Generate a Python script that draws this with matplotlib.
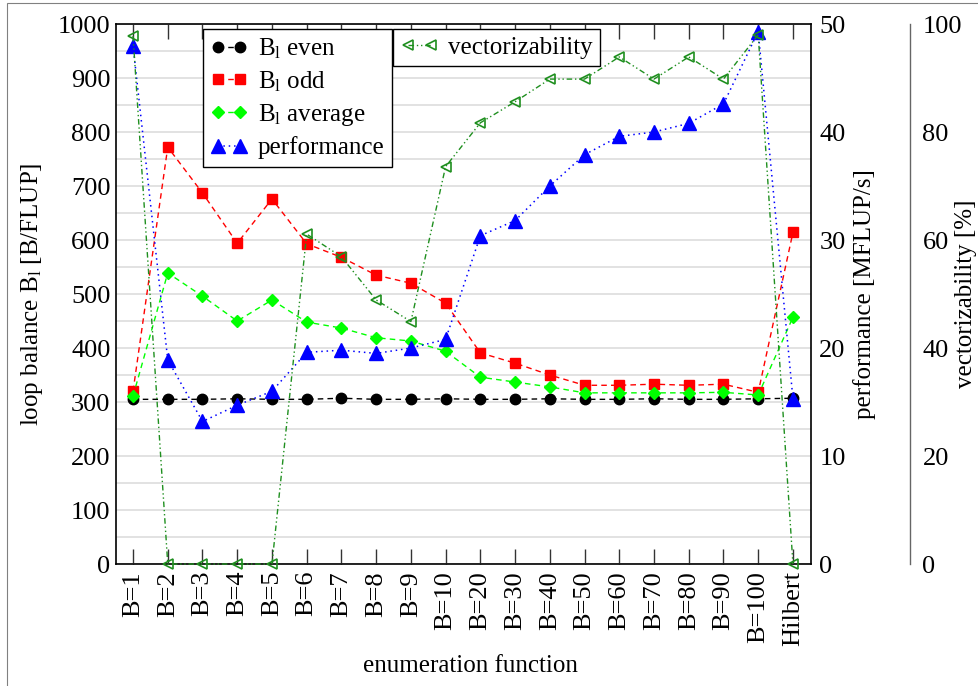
#! /usr/bin/env python3

# Loop balance, performance and vectorizability per enumeration function.

import matplotlib
matplotlib.use('Agg')
import matplotlib.pyplot as plt
from matplotlib.patches import Rectangle
import numpy as np

categories = ['B=1', 'B=2', 'B=3', 'B=4', 'B=5', 'B=6', 'B=7', 'B=8', 'B=9',
              'B=10', 'B=20', 'B=30', 'B=40', 'B=50', 'B=60', 'B=70', 'B=80',
              'B=90', 'B=100', 'Hilbert']

bl_even = [305, 305, 305, 306, 305, 305, 307, 305, 305, 306,
           305, 305, 306, 305, 305, 306, 305, 305, 306, 307]
bl_odd = [320, 772, 687, 594, 676, 593, 568, 535, 520, 483,
          391, 372, 350, 331, 331, 333, 331, 333, 318, 614]
bl_avg = [311, 539, 496, 450, 489, 448, 437, 419, 413, 394,
          346, 337, 328, 317, 317, 317, 317, 318, 313, 457]
performance = [48.0, 18.9, 13.2, 14.7, 16.0, 19.6, 19.8, 19.5, 20.0, 20.8,
               30.4, 31.8, 35.0, 37.9, 39.6, 40.0, 40.8, 42.6, 49.3, 15.3]
vectorizability = [97.8, 0, 0, 0, 0, 61.1, 56.9, 48.9, 44.9, 73.6,
                   81.7, 85.6, 89.8, 89.8, 93.9, 89.8, 93.9, 89.8, 98.0, 0]

plt.rcParams['font.family'] = 'serif'
plt.rcParams['font.serif'] = ['Liberation Serif', 'DejaVu Serif']
plt.rcParams['mathtext.fontset'] = 'custom'
plt.rcParams['mathtext.rm'] = 'Liberation Serif'
plt.rcParams['mathtext.it'] = 'Liberation Serif:italic'

TICKSIZE = 19
LABELSIZE = 18

vgreen = '#1f8f1f'


def make_plot():
    fig = plt.figure(figsize=(9.79, 6.86), dpi=100)
    # thin frame around the whole picture
    fig.patches.append(Rectangle((7 / 979, -0.1), 1.2, 1.1 - 3 / 686,
                                 transform=fig.transFigure, fill=False,
                                 edgecolor='#808080', linewidth=0.8))

    ax1 = fig.add_axes([0.1185, 0.1778, 0.7099, 0.7872])
    ax2 = ax1.twinx()
    ax3 = ax1.twinx()

    x = np.arange(len(categories))

    # loop balance on the left axis
    ax1.set_ylim(0, 1000)
    ax1.set_xlim(-0.49, len(categories) - 0.48)
    ax1.set_yticks(np.arange(0, 1001, 100))
    ax1.set_yticks(np.arange(50, 1000, 100), minor=True)
    ax1.grid(True, axis='y', which='both', color='#dadada', linewidth=1.1)
    ax1.set_axisbelow(True)
    ax1.set_xticks(x)
    ax1.set_xticklabels(categories, rotation=90)
    ax1.tick_params(axis='x', direction='in', length=11, width=1,
                    top=True, labelsize=TICKSIZE, pad=5, color='#333333')
    ax1.tick_params(axis='y', which='both', direction='in', length=0,
                    labelsize=TICKSIZE, pad=4)
    for s in ax1.spines.values():
        s.set_linewidth(1.2)

    l_even, = ax1.plot(x, bl_even, color='black', linestyle=(0, (4, 3)),
                       linewidth=1.0, marker='o', markersize=7.5,
                       label=r'B$_\mathrm{l}$ even', clip_on=False)
    l_odd, = ax1.plot(x, bl_odd, color='red', linestyle=(0, (4, 3)),
                      linewidth=1.0, marker='s', markersize=6.5,
                      label=r'B$_\mathrm{l}$ odd', clip_on=False)
    l_avg, = ax1.plot(x, bl_avg, color='#00ff00', linestyle=(0, (4, 3)),
                      linewidth=1.0, marker='D', markersize=6,
                      label=r'B$_\mathrm{l}$ average', clip_on=False)

    ax1.set_ylabel(r'loop balance B$_\mathrm{l}$ [B/FLUP]', fontsize=LABELSIZE)
    ax1.yaxis.set_label_coords(-0.102, 0.5)
    ax1.set_xlabel('enumeration function', fontsize=LABELSIZE)
    ax1.xaxis.set_label_coords(0.51, -0.1685)

    # performance on the first right axis
    ax2.set_ylim(0, 50)
    ax2.set_yticks(np.arange(0, 51, 10))
    ax2.tick_params(axis='y', direction='in', length=0, labelsize=TICKSIZE,
                    pad=6)
    l_perf, = ax2.plot(x, performance, color='blue', linestyle=(0, (1, 2.5)),
                       linewidth=1.1, marker='^', markersize=10,
                       label='performance', clip_on=False)
    ax2.set_ylabel('performance [MFLUP/s]', fontsize=LABELSIZE)
    ax2.yaxis.set_label_coords(1.0604, 0.5)
    for s in ax2.spines.values():
        s.set_visible(False)

    # vectorizability on a detached axis further right
    ax3.set_ylim(0, 100)
    ax3.set_yticks(np.arange(0, 101, 20))
    ax3.spines['right'].set_position(('axes', 1.1424))
    ax3.spines['right'].set_color('#666666')
    ax3.spines['right'].set_linewidth(1.0)
    for k in ('left', 'top', 'bottom'):
        ax3.spines[k].set_visible(False)
    ax3.tick_params(axis='y', length=0, labelsize=TICKSIZE, pad=9)
    l_vec, = ax3.plot(x, vectorizability, color=vgreen,
                      linestyle=(0, (4, 2, 1, 2, 1, 2)), linewidth=1.0,
                      marker='<', markersize=7.5, markerfacecolor='none',
                      markeredgewidth=1.2, label='vectorizability',
                      clip_on=False)
    ax3.set_ylabel('vectorizability [%]', fontsize=LABELSIZE)
    ax3.yaxis.set_label_coords(1.207, 0.5)

    leg1 = ax3.legend(handles=[l_even, l_odd, l_avg, l_perf],
                      loc='upper left', bbox_to_anchor=(0.125, 0.991),
                      borderaxespad=0, numpoints=2, handlelength=1.5,
                      handletextpad=0.4, fontsize=LABELSIZE, fancybox=False,
                      framealpha=1, edgecolor='black', labelspacing=0.33,
                      borderpad=0.3)
    leg1.get_frame().set_linewidth(1.0)
    ax3.add_artist(leg1)
    leg2 = ax3.legend(handles=[l_vec], loc='upper left',
                      bbox_to_anchor=(0.3986, 0.991), borderaxespad=0,
                      numpoints=2, handlelength=1.5, handletextpad=0.4,
                      fontsize=LABELSIZE, fancybox=False, framealpha=1,
                      edgecolor='black', borderpad=0.3)
    leg2.get_frame().set_linewidth(1.0)

    fig.savefig('out.png', dpi=100)


def main():
    make_plot()


if __name__ == "__main__":
    main()
